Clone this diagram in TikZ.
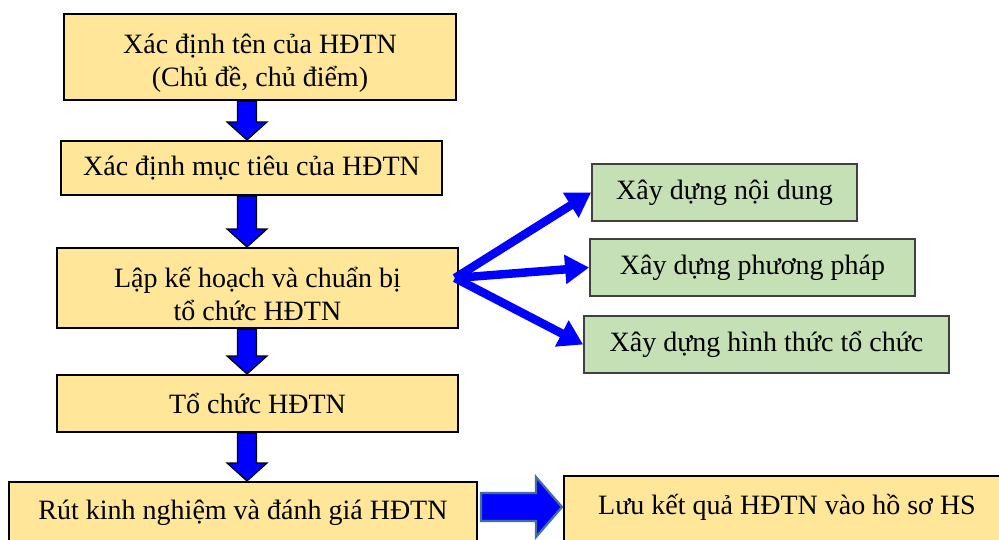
\documentclass[tikz,border=0pt]{standalone}
\usepackage{fontspec}
\setmainfont{Liberation Serif}
\usetikzlibrary{arrows.meta,calc}
\definecolor{yboxc}{HTML}{FFE699}
\definecolor{gboxc}{HTML}{C5E0B4}
\definecolor{bluea}{HTML}{0000FF}
\definecolor{steel}{HTML}{41719C}
\begin{document}
\begin{tikzpicture}[x=1pt,y=-1pt,
  font=\fontsize{28}{33}\selectfont,
  ybox/.style={draw=black, line width=2pt, fill=yboxc, align=center, inner sep=0pt},
  gbox/.style={draw=black!75, line width=1.8pt, fill=gboxc, align=center, inner sep=0pt},
  downarr/.style={fill=bluea, draw=black, line width=1.2pt, line join=miter},
  rightarr/.style={fill=bluea, draw=steel, line width=2.2pt, line join=miter},
  thinarr/.style={draw=bluea, line width=8.5pt, -{Triangle[length=24pt,width=28pt]}}]
\clip (0,0) rectangle (999,539);
\fill[white] (0,0) rectangle (999,539);
\coordinate (spine) at (247,0);
\coordinate (arrowrow) at (0,507);
\coordinate (hub) at (455,278);

\node[ybox, minimum width=392pt, minimum height=86pt] (b1) at (260,57)
  {\rule{0pt}{32pt}Xác định tên của HĐTN\\(Chủ đề, chủ điểm)};
\node[ybox, minimum width=381pt, minimum height=54pt] (b2) at (251.5,168)
  {Xác định mục tiêu của HĐTN};
\node[ybox, minimum width=401pt, minimum height=80pt] (b3) at (257.5,288)
  {\rule{0pt}{32pt}Lập kế hoạch và chuẩn bị\\ tổ chức HĐTN};
\node[ybox, minimum width=401pt, minimum height=57pt] (b4) at (257.5,403.5)
  {Tổ chức HĐTN};
\node[ybox, anchor=north, minimum width=468pt, text height=37pt, text depth=30pt] (b5) at (243,481)
  {Rút kinh nghiệm và đánh giá HĐTN};
\node[ybox, anchor=north west, minimum width=446pt, text height=38pt, text depth=30pt] (b6) at (563,475)
  {Lưu kết quả HĐTN vào hồ sơ HS};

\node[gbox, minimum width=265pt, minimum height=57pt] (g1) at (724.5,192.5) {Xây dựng nội dung};
\node[gbox, minimum width=325pt, minimum height=57pt] (g2) at (752.5,267.5) {Xây dựng phương pháp};
\node[gbox, minimum width=365pt, minimum height=57pt] (g3) at (766.5,344.5) {Xây dựng hình thức tổ chức};

\foreach \a/\b in {b1/b2, b2/b3, b3/b4, b4/b5}{
  \draw[downarr] let \p1=(spine |- \a.south), \p2=(spine |- \b.north) in
    (\x1-9.5pt,\y1) -- (\x1+9.5pt,\y1) -- (\x1+9.5pt,\y2+18pt) -- (\x1+20pt,\y2+18pt)
    -- (\x1,\y2) -- (\x1-20pt,\y2+18pt) -- (\x1-9.5pt,\y2+18pt) -- cycle;
}

\draw[thinarr] (hub) -- (g1.west);
\draw[thinarr] (hub) -- (g2.west);
\draw[thinarr] (hub) -- (g3.west);

\draw[rightarr] let \p1=(b5.east |- arrowrow), \p2=(b6.west |- arrowrow) in
  (\x1+3pt,\y1+14pt) -- (\x2-27pt,\y1+14pt) -- (\x2-27pt,\y1+30pt) -- (\x2-1pt,\y1)
  -- (\x2-27pt,\y1-30pt) -- (\x2-27pt,\y1-14pt) -- (\x1+3pt,\y1-14pt) -- cycle;
\end{tikzpicture}
\end{document}
